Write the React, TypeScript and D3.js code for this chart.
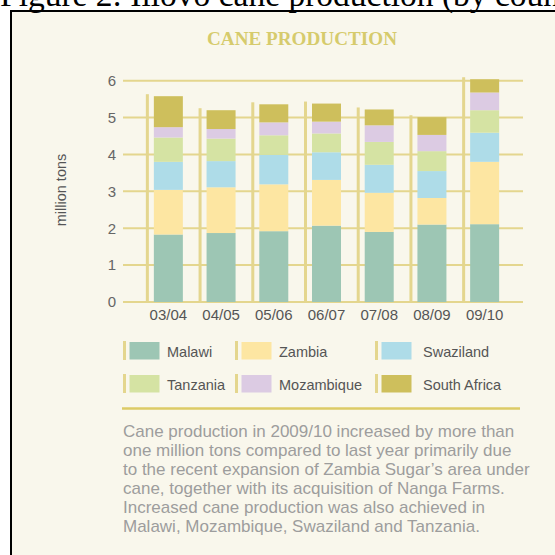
import { useEffect, useRef } from "react";
import * as d3 from "d3";

const YEARS = ["03/04", "04/05", "05/06", "06/07", "07/08", "08/09", "09/10"];
const COUNTRIES = ["Malawi", "Zambia", "Swaziland", "Tanzania", "Mozambique", "South Africa"];
const MALAWI = [1.83, 1.87, 1.92, 2.07, 1.9, 2.1, 2.11];
const ZAMBIA = [1.21, 1.24, 1.27, 1.24, 1.06, 0.72, 1.69];
const SWAZILAND = [0.76, 0.71, 0.8, 0.75, 0.76, 0.73, 0.79];
const TANZANIA = [0.66, 0.61, 0.53, 0.51, 0.62, 0.54, 0.61];
const MOZAMBIQUE = [0.28, 0.26, 0.35, 0.32, 0.45, 0.44, 0.48];
const SOUTH_AFRICA = [0.84, 0.51, 0.49, 0.49, 0.43, 0.48, 0.36];
const Y_TICKS = [0, 1, 2, 3, 4, 5, 6];
const COLORS = ["#9dc6b4", "#fde6a2", "#aedce8", "#d5e3a3", "#dccbe3", "#cebf5c"];
const NOTE = [
  "Cane production in 2009/10 increased by more than",
  "one million tons compared to last year primarily due",
  "to the recent expansion of Zambia Sugar\u2019s area under",
  "cane, together with its acquisition of Nanga Farms.",
  "Increased cane production was also achieved in",
  "Malawi, Mozambique, Swaziland and Tanzania.",
];

const SANS = "'Liberation Sans', Arial, Helvetica, sans-serif";
const GOLD = "#e4d68e";

export default function App() {
  const svgRef = useRef<SVGSVGElement>(null);

  useEffect(() => {
    const svg = svgRef.current;
    if (!svg) return;
    const s = d3.select(svg);
    s.selectAll("*").remove();

    // page frame
    s.append("rect")
      .attr("x", 11).attr("y", 11).attr("width", 560).attr("height", 560)
      .attr("fill", "#f9f7ec").attr("stroke", "#000").attr("stroke-width", 2);

    // caption of the figure, cut by the top of the page as in the scan
    s.append("text")
      .attr("x", 0).attr("y", 6)
      .attr("font-family", "'Liberation Serif', 'Times New Roman', serif")
      .attr("font-size", 33.5)
      .attr("fill", "#000")
      .text("Figure 2: Illovo cane production (by country)");

    s.append("text")
      .attr("x", 302).attr("y", 45)
      .attr("text-anchor", "middle")
      .attr("font-family", "'Liberation Serif', serif")
      .attr("font-size", 19)
      .attr("font-weight", "bold")
      .attr("textLength", 190)
      .attr("lengthAdjust", "spacingAndGlyphs")
      .attr("fill", "#d6cb6c")
      .text("CANE PRODUCTION");

    const x = d3.scaleBand<string>().domain(YEARS).range([142, 511]).paddingInner(0.45).paddingOuter(0.225);
    const y = d3.scaleLinear().domain([0, 6]).range([302, 80.7]);

    // grid
    s.append("g").selectAll("line")
      .data(Y_TICKS)
      .join("line")
      .attr("x1", 123).attr("x2", 523)
      .attr("y1", (d) => y(d)).attr("y2", (d) => y(d))
      .attr("stroke", GOLD).attr("stroke-width", 2);

    const yAxis = s.append("g").attr("transform", "translate(116,0)")
      .call(d3.axisLeft(y).tickValues(Y_TICKS).tickFormat(d3.format("d")).tickSize(0).tickPadding(0));
    yAxis.select(".domain").remove();
    yAxis.selectAll("text")
      .attr("fill", "#666").attr("font-size", 15).style("font-family", SANS);

    const xAxis = s.append("g").attr("transform", "translate(0,309)")
      .call(d3.axisBottom(x).tickSize(0).tickPadding(0));
    xAxis.select(".domain").remove();
    xAxis.selectAll("text")
      .attr("fill", "#555").attr("font-size", 15).attr("dy", "0.71em").style("font-family", SANS);

    s.append("text")
      .attr("transform", "translate(66,190) rotate(-90)")
      .attr("text-anchor", "middle")
      .attr("font-family", SANS).attr("font-size", 14.5).attr("fill", "#555")
      .text("million tons");

    const rows = YEARS.map((yr, i) => ({
      year: yr,
      Malawi: MALAWI[i],
      Zambia: ZAMBIA[i],
      Swaziland: SWAZILAND[i],
      Tanzania: TANZANIA[i],
      Mozambique: MOZAMBIQUE[i],
      "South Africa": SOUTH_AFRICA[i],
    }));
    const series = d3.stack<any>().keys(COUNTRIES)(rows);
    const totals = rows.map((r) => COUNTRIES.reduce((a, k) => a + (r as any)[k], 0));

    // thin gold post to the left of every bar
    s.append("g").selectAll("rect")
      .data(YEARS)
      .join("rect")
      .attr("x", (d) => (x(d) ?? 0) - 8)
      .attr("width", 3)
      .attr("y", (_d, i) => y(totals[i]) - 2)
      .attr("height", (_d, i) => y(0) - y(totals[i]) + 2)
      .attr("fill", GOLD);

    s.append("g").selectAll("g")
      .data(series)
      .join("g")
      .attr("fill", (_d, i) => COLORS[i])
      .selectAll("rect")
      .data((d) => d)
      .join("rect")
      .attr("x", (d: any) => x(d.data.year) ?? 0)
      .attr("width", x.bandwidth())
      .attr("y", (d) => y(d[1]))
      .attr("height", (d) => y(d[0]) - y(d[1]));

    // legend
    const colX = [123, 235, 375];
    const rowY = [342, 375];
    const leg = s.append("g").selectAll("g")
      .data(COUNTRIES)
      .join("g")
      .attr("transform", (_d, i) => `translate(${colX[i % 3]},${rowY[Math.floor(i / 3)]})`);
    leg.append("rect").attr("x", 0).attr("y", -1).attr("width", 3).attr("height", 19).attr("fill", GOLD);
    leg.append("rect").attr("x", 6.5).attr("y", 0).attr("width", 30).attr("height", 17.5)
      .attr("fill", (_d, i) => COLORS[i]);
    leg.append("text")
      .attr("x", (_d, i) => (i % 3 === 2 ? 48 : 44)).attr("y", 15)
      .attr("font-family", SANS).attr("font-size", 14.5).attr("fill", "#555")
      .text((d) => d);

    s.append("line")
      .attr("x1", 122).attr("x2", 520).attr("y1", 408.5).attr("y2", 408.5)
      .attr("stroke", "#dccb66").attr("stroke-width", 2.5);

    s.append("g").selectAll("text")
      .data(NOTE)
      .join("text")
      .attr("x", 123)
      .attr("y", (_d, i) => 436.5 + i * 19)
      .attr("font-family", SANS).attr("font-size", 17).attr("fill", "#9d9d9d")
      .text((d) => d);
  }, []);

  return (
    <div style={{ position: "fixed", left: 0, top: 0 }}>
      <svg ref={svgRef} width={555} height={555} style={{ display: "block", background: "#fff" }} />
    </div>
  );
}
